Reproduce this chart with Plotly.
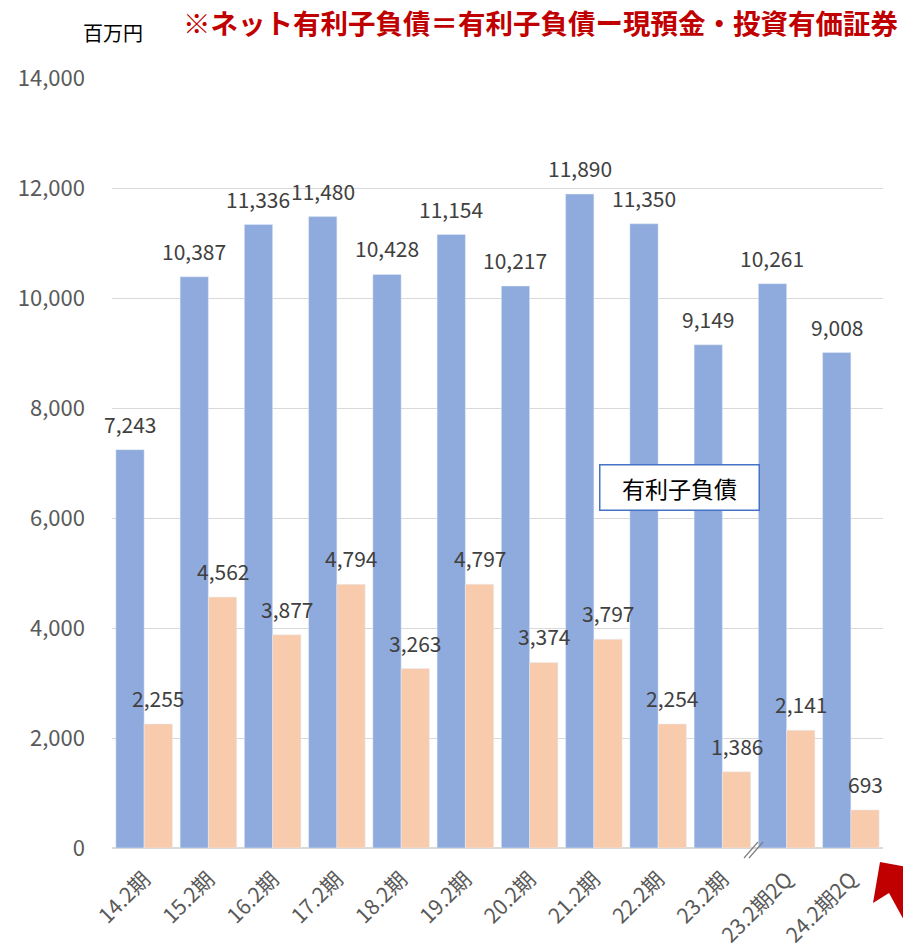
import plotly.graph_objects as go

categories = ["14.2期", "15.2期", "16.2期", "17.2期", "18.2期", "19.2期", "20.2期",
              "21.2期", "22.2期", "23.2期", "23.2期2Q", "24.2期2Q"]
debt = [7243, 10387, 11336, 11480, 10428, 11154, 10217, 11890, 11350, 9149, 10261, 9008]
net_debt = [2255, 4562, 3877, 4794, 3263, 4797, 3374, 3797, 2254, 1386, 2141, 693]
y_ticks = [0, 2000, 4000, 6000, 8000, 10000, 12000, 14000]

BLUE = "#8faadc"
ORANGE = "#f8cbad"
FONT = "Noto Sans CJK JP"

L, R, T, B = 112, 883, 78, 848
W, H = 903, 950


def px(x):
    return (x - L) / (R - L)


def py(y):
    return (B - y) / (B - T)


fig = go.Figure()
fig.add_trace(go.Bar(x=categories, y=debt, marker_color=BLUE, name="有利子負債"))
fig.add_trace(go.Bar(x=categories, y=net_debt, marker_color=ORANGE, name="ネット有利子負債"))

bargap = 0.12
cat_w = (R - L) / len(categories)
bar_w = cat_w * (1 - bargap) / 2
annotations = []
for series, sign in ((debt, -1), (net_debt, 1)):
    for c, v in zip(categories, series):
        annotations.append(dict(
            x=c, y=v, xref="x", yref="y", text=f"{v:,}", showarrow=False,
            xshift=sign * bar_w / 2, yshift=26, yanchor="middle",
            font=dict(family=FONT, size=21, color="#404040")))

# title-like texts
annotations.append(dict(
    x=px(900), y=py(22), xref="paper", yref="paper", xanchor="right", yanchor="middle",
    text="<b>※ネット有利子負債＝有利子負債ー現預金・投資有価証券</b>", showarrow=False,
    font=dict(family=FONT, size=27.5, color="#c00000")))
annotations.append(dict(
    x=px(113), y=py(32), xref="paper", yref="paper", xanchor="center", yanchor="middle",
    text="百万円", showarrow=False, font=dict(family=FONT, size=20, color="#000000")))
# label box
annotations.append(dict(
    x=px(679), y=py(487), xref="paper", yref="paper", xanchor="center", yanchor="middle",
    text="有利子負債", showarrow=False, width=156, height=42,
    bgcolor="white", bordercolor="#4472c4", borderwidth=1.5, borderpad=1,
    font=dict(family=FONT, size=23, color="#000000")))

shapes = []
# axis break marks
for off in (0, 5):
    shapes.append(dict(type="line", xref="paper", yref="paper",
                       x0=px(744 + off), y0=py(858), x1=px(758 + off), y1=py(842),
                       line=dict(color="#7f7f7f", width=1.2)))
# red arrow
pts = [(880, 862), (912, 868), (912, 935), (889, 893), (873, 903)]
path = "M " + " L ".join(f"{px(a)},{py(b)}" for a, b in pts) + " Z"
shapes.append(dict(type="path", xref="paper", yref="paper", path=path,
                   fillcolor="#c00000", line=dict(width=0)))

fig.update_layout(
    width=W, height=H,
    margin=dict(l=L, r=W - R, t=T, b=H - B, autoexpand=False),
    barmode="group", bargap=bargap, bargroupgap=0,
    plot_bgcolor="white", paper_bgcolor="white",
    showlegend=False,
    annotations=annotations, shapes=shapes,
    font=dict(family=FONT, color="#595959"),
)
fig.update_yaxes(range=[0, 14000], tickvals=y_ticks, tickformat=",d",
                 showgrid=True, gridcolor="#d9d9d9", gridwidth=1,
                 zeroline=True, zerolinecolor="#d9d9d9", zerolinewidth=1.5,
                 showline=False, ticklabelstandoff=26, automargin=False,
                 tickfont=dict(family=FONT, size=22, color="#595959"))
fig.update_xaxes(tickangle=-45, showline=False, showgrid=False, automargin=False,
                 range=[-0.5, len(categories) - 0.5],
                 tickfont=dict(family=FONT, size=21, color="#595959"),
                 ticklabelstandoff=14)

fig.write_html(
    "out.html",
    config={"displayModeBar": False},
    post_script="document.body.style.margin='0';document.body.style.overflow='hidden';",
)
